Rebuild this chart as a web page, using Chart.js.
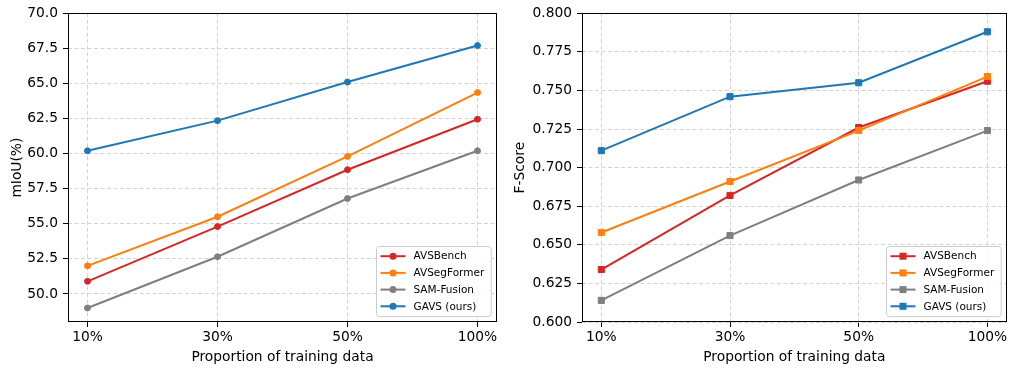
<!DOCTYPE html>
<html><head><meta charset="utf-8">
<script src="https://cdn.jsdelivr.net/npm/chart.js@4/dist/chart.umd.min.js"></script>
<style>
html,body{margin:0;padding:0;background:#fff;}
#wrap{position:relative;width:1012px;height:368px;overflow:hidden;}
.c{position:absolute;top:0;width:506px;height:368px;}
</style></head><body>
<div id="wrap">
<div class="c" style="left:0"><canvas id="c1" width="506" height="368"></canvas></div>
<div class="c" style="left:506px"><canvas id="c2" width="506" height="368"></canvas></div>
</div>
<script>
// ---- data ----
const categories = ['10%', '30%', '50%', '100%'];
const seriesNames = ['AVSBench', 'AVSegFormer', 'SAM-Fusion', 'GAVS (ours)'];

const miouAVSBench    = [50.9, 54.8, 58.85, 62.45];
const miouAVSegFormer = [52.0, 55.5, 59.8, 64.35];
const miouSAMFusion   = [49.0, 52.65, 56.8, 60.2];
const miouGAVS        = [60.2, 62.35, 65.1, 67.7];

const fAVSBench    = [0.634, 0.682, 0.726, 0.756];
const fAVSegFormer = [0.658, 0.691, 0.724, 0.759];
const fSAMFusion   = [0.614, 0.656, 0.692, 0.724];
const fGAVS        = [0.711, 0.746, 0.755, 0.788];

const miouTicks = [50.0, 52.5, 55.0, 57.5, 60.0, 62.5, 65.0, 67.5, 70.0];
const fTicks = [0.600, 0.625, 0.650, 0.675, 0.700, 0.725, 0.750, 0.775, 0.800];

const xTitle = 'Proportion of training data';
const yTitleLeft = 'mIoU(%)';
const yTitleRight = 'F-Score';

// ---- styles ----
const palette = ['#d62728', '#ff7f0e', '#7f7f7f', '#1f77b4'];
const FONT = '"DejaVu Sans", "Liberation Sans", sans-serif';
const FS = 13.8;
Chart.defaults.font.family = FONT;
Chart.defaults.color = '#000';

const framePlugin = {
  id: 'frame',
  afterDatasetsDraw(chart) {
    const ca = chart.chartArea, ctx = chart.ctx;
    ctx.save();
    ctx.strokeStyle = '#000';
    ctx.lineWidth = 1;
    const l = Math.round(ca.left) + 0.5, t = Math.round(ca.top) + 0.5;
    const r = Math.round(ca.right) - 0.5, b = Math.round(ca.bottom) - 0.5;
    ctx.strokeRect(l, t, r - l, b - t);
    ctx.restore();
  }
};

const legendPlugin = {
  id: 'insideLegend',
  afterDraw(chart) {
    const ctx = chart.ctx, ca = chart.chartArea;
    const ds = chart.data.datasets;
    ctx.save();
    ctx.font = '10.5px ' + FONT;
    const tw = Math.max(...ds.map(d => ctx.measureText(d.label).width));
    const w = 4 + 25 + 8 + tw + 7;
    const rowH = 16.7;
    const h = 9.7 + rowH * (ds.length - 1) + 10.3;
    const x = Math.round(ca.right - 6 - w) + 0.5, y = Math.round(ca.bottom - 5.7 - h) + 0.5;
    ctx.beginPath();
    ctx.roundRect(x, y, w, h, 3);
    ctx.fillStyle = 'rgba(255,255,255,0.85)';
    ctx.fill();
    ctx.strokeStyle = '#cccccc';
    ctx.lineWidth = 1;
    ctx.stroke();
    ds.forEach((d, i) => {
      const cy = y + 9.7 + i * rowH;
      ctx.strokeStyle = d.borderColor;
      ctx.lineWidth = 2;
      ctx.beginPath();
      ctx.moveTo(x + 4, cy);
      ctx.lineTo(x + 29, cy);
      ctx.stroke();
      ctx.fillStyle = d.borderColor;
      if (d.pointStyle === 'rect') {
        ctx.fillRect(x + 16.5 - 3.5, cy - 3.5, 7, 7);
      } else {
        ctx.beginPath();
        ctx.arc(x + 16.5, cy, 3.5, 0, Math.PI * 2);
        ctx.fill();
      }
      ctx.fillStyle = '#000';
      ctx.textBaseline = 'middle';
      ctx.textAlign = 'left';
      ctx.fillText(d.label, x + 37, cy + 0.5);
    });
    ctx.restore();
  }
};

function makeChart(canvasId, seriesArrays, yTicks, yDigits, yTitle, yWidth, yTitlePad, padRight, pointStyle, pointRadius) {
  const datasets = seriesArrays.map((arr, i) => ({
    label: seriesNames[i],
    data: arr.map((v, j) => ({x: j, y: v})),
    borderColor: palette[i],
    backgroundColor: palette[i],
    pointBackgroundColor: palette[i],
    pointBorderColor: palette[i],
    pointBorderWidth: 1,
    pointRadius: pointRadius,
    pointStyle: pointStyle,
    borderWidth: 2,
    tension: 0,
    order: seriesArrays.length - i
  }));
  const gridOpts = {
    color: '#d4d4d4',
    tickBorderDash: [],
    tickColor: '#000',
    tickLength: 5,
    lineWidth: 1
  };
  return new Chart(document.getElementById(canvasId), {
    type: 'line',
    data: {datasets},
    options: {
      responsive: false,
      animation: false,
      events: [],
      layout: {padding: {left: 0, top: 9, right: padRight, bottom: 0}},
      plugins: {legend: {display: false}, tooltip: {enabled: false}},
      scales: {
        x: {
          type: 'linear',
          min: -0.15,
          max: categories.length - 1 + 0.15,
          afterBuildTicks: s => { s.ticks = categories.map((_, i) => ({value: i})); },
          afterFit: s => { s.height = 46; },
          ticks: {
            callback: v => categories[v],
            font: {size: FS, family: FONT},
            color: '#000',
            padding: 2.5,
            maxRotation: 0,
            autoSkip: false
          },
          grid: gridOpts,
          border: {display: false, dash: [4, 2.5]},
          title: {display: true, text: xTitle, font: {size: FS, family: FONT}, color: '#000', padding: {top: 0, bottom: 2.6}}
        },
        y: {
          type: 'linear',
          min: yTicks[0] - (yDigits === 1 ? 2 : 0),
          max: yTicks[yTicks.length - 1],
          afterBuildTicks: s => { s.ticks = yTicks.map(v => ({value: v})); },
          afterFit: s => { s.width = yWidth; },
          ticks: {
            callback: v => Number(v).toFixed(yDigits),
            font: {size: FS, family: FONT},
            color: '#000',
            padding: 5,
            autoSkip: false
          },
          grid: gridOpts,
          border: {display: false, dash: [4, 2.5]},
          title: {display: true, text: yTitle, font: {size: FS, family: FONT}, color: '#000', padding: {top: yTitlePad, bottom: 0}}
        }
      }
    },
    plugins: [framePlugin, legendPlugin]
  });
}

makeChart('c1', [miouAVSBench, miouAVSegFormer, miouSAMFusion, miouGAVS], miouTicks, 1, yTitleLeft, 68, 9.6, 9, 'circle', 3);
makeChart('c2', [fAVSBench, fAVSegFormer, fSAMFusion, fGAVS], fTicks, 3, yTitleRight, 76, 6.3, 2, 'rect', 4.3);
</script>
</body></html>
